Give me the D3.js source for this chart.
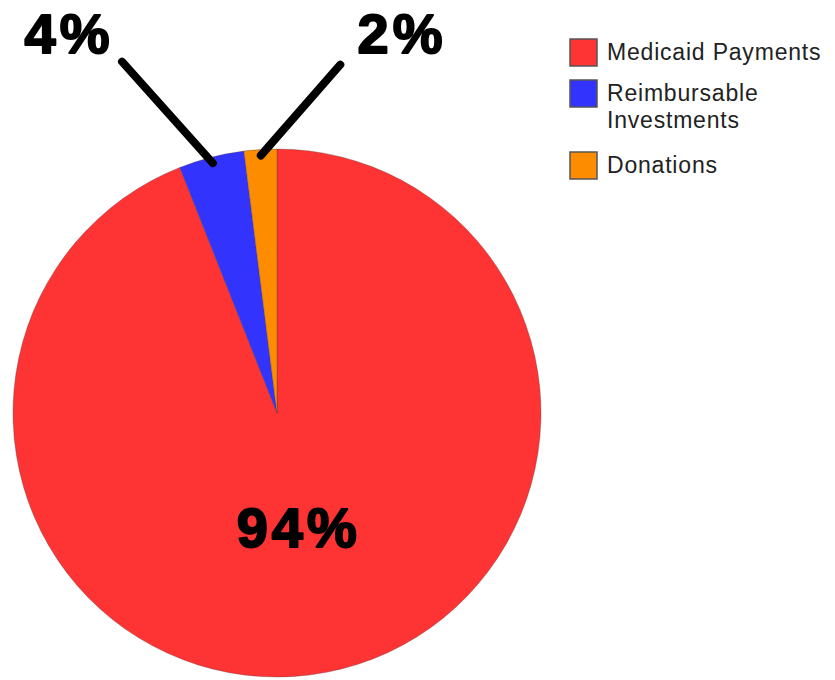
<!DOCTYPE html>
<html>
<head>
<meta charset="utf-8">
<script src="https://cdn.jsdelivr.net/npm/d3@7"></script>
<style>
	body { margin: 0; background: #fff; }
	svg { display: block; }
</style>
</head>
<body>
<svg id="chart"></svg>
<script>
// data
const categories = ["Medicaid Payments", "Reimbursable Investments", "Donations"];
const shares = [94, 4, 2];
const sliceColors = ["#fe3334", "#3333fe", "#fe8c00"];
const legendLines = [["Medicaid Payments"], ["Reimbursable", "Investments"], ["Donations"]];

const width = 835, height = 680;
const cx = 277, cy = 413, radius = 264;

const svg = d3.select("#chart")
	.attr("width", width)
	.attr("height", height);

const pieData = d3.pie().sort(null).value(d => d)(shares);
const arc = d3.arc().innerRadius(0).outerRadius(radius);
const color = d3.scaleOrdinal().domain(categories).range(sliceColors);

const g = svg.append("g").attr("transform", `translate(${cx},${cy})`);

g.selectAll("path.slice")
	.data(pieData)
	.enter()
	.append("path")
	.attr("class", "slice")
	.attr("d", arc)
	.style("fill", (d, i) => color(categories[i]))
	.style("stroke", "rgba(90,60,60,0.35)")
	.style("stroke-width", 1);

const labelFont = "'Liberation Sans', Arial, sans-serif";

function bigLabel(sel) {
	sel.attr("text-anchor", "middle")
		.style("font-family", labelFont)
		.style("font-weight", "bold")
		.style("font-size", "56px")
		.style("letter-spacing", "4px")
		.style("fill", "#000")
		.style("stroke", "#000")
		.style("stroke-width", 2)
		.style("stroke-linejoin", "round");
}

// big slice label inside
const innerArc = d3.arc().innerRadius(232).outerRadius(0);
g.append("text")
	.attr("transform", `translate(${innerArc.centroid(pieData[0])})`)
	.attr("dy", "0.36em")
	.call(bigLabel)
	.text(shares[0] + "%");

// small slices: leader line + label outside
const outside = [
	{ idx: 1, angle: -23.8, lineR: 384, textX: -208, textY: -360 },
	{ idx: 2, angle: 10.3, lineR: 354, textX: 125, textY: -360 }
];
const leaderStart = 258;

outside.forEach(o => {
	const d = pieData[o.idx];
	const mid = (d.startAngle + d.endAngle) / 2;
	const a = o.angle * Math.PI / 180;
	g.append("line")
		.attr("x1", Math.sin(mid) * leaderStart)
		.attr("y1", -Math.cos(mid) * leaderStart)
		.attr("x2", Math.sin(a) * o.lineR)
		.attr("y2", -Math.cos(a) * o.lineR)
		.style("stroke", "#000")
		.style("stroke-width", 8)
		.style("stroke-linecap", "round");
	g.append("text")
		.attr("x", o.textX)
		.attr("y", o.textY)
		.call(bigLabel)
		.text(shares[o.idx] + "%");
});

// legend
const legendTops = [39, 80, 152];
const legend = svg.append("g").attr("transform", "translate(570,0)");
categories.forEach((c, i) => {
	const row = legend.append("g").attr("transform", `translate(0,${legendTops[i]})`);
	row.append("rect")
		.attr("width", 27)
		.attr("height", 27)
		.style("fill", color(c))
		.style("stroke", "#555")
		.style("stroke-width", 1.5);
	row.append("text")
		.attr("x", 37)
		.attr("y", 21)
		.style("font-family", labelFont)
		.style("font-size", "23px")
		.style("letter-spacing", "0.8px")
		.style("fill", "#222")
		.selectAll("tspan")
		.data(legendLines[i])
		.enter()
		.append("tspan")
		.attr("x", 37)
		.attr("dy", (d, j) => j === 0 ? 0 : 27)
		.text(d => d);
});
</script>
</body>
</html>
